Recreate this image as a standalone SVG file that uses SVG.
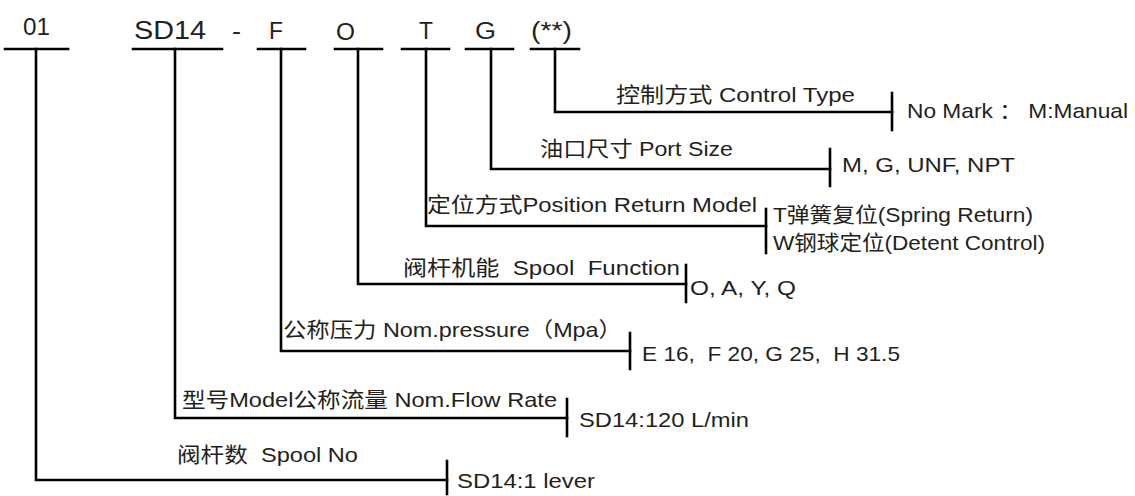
<svg xmlns="http://www.w3.org/2000/svg" width="1135" height="496" viewBox="0 0 1135 496">
<style>
  text { white-space: pre; }
  .code { font-family: "Liberation Sans", Arial, sans-serif; font-size: 23px; fill: #231f20; }
  .lbl { font-family: "Liberation Sans", "Noto Sans CJK SC", sans-serif; font-size: 21px; fill: #231f20; }
  .ln { stroke: #000; stroke-width: 2.6; fill: none; stroke-linecap: square; }
</style>
<rect width="1135" height="496" fill="#ffffff"/>

<g id="code-01"><text class="code" x="23" y="35" textLength="27" lengthAdjust="spacingAndGlyphs">01</text></g>
<g id="code-SD14"><text class="code" x="134" y="39" textLength="72" lengthAdjust="spacingAndGlyphs" style="font-size:25px">SD14</text></g>
<g id="code-dash"><text class="code" x="232" y="39" textLength="9" lengthAdjust="spacingAndGlyphs">-</text></g>
<g id="code-F"><text class="code" x="269" y="39" textLength="14" lengthAdjust="spacingAndGlyphs">F</text></g>
<g id="code-O"><text class="code" x="336" y="40" textLength="19" lengthAdjust="spacingAndGlyphs">O</text></g>
<g id="code-T"><text class="code" x="419" y="39" textLength="14" lengthAdjust="spacingAndGlyphs">T</text></g>
<g id="code-G"><text class="code" x="475" y="39" textLength="21" lengthAdjust="spacingAndGlyphs">G</text></g>
<g id="code-ctrl"><text class="code" x="531" y="39" textLength="41" lengthAdjust="spacingAndGlyphs">(**)</text></g>

<g id="connectors">
  <line class="ln" x1="5" y1="49" x2="68" y2="49"/>
  <line class="ln" x1="133" y1="49" x2="222" y2="49"/>
  <line class="ln" x1="258" y1="49" x2="305" y2="49"/>
  <line class="ln" x1="335" y1="49" x2="382" y2="49"/>
  <line class="ln" x1="402" y1="49" x2="449" y2="49"/>
  <line class="ln" x1="466" y1="49" x2="513" y2="49"/>
  <line class="ln" x1="531" y1="49" x2="579" y2="49"/>
  <polyline class="ln" points="555,49 555,112 892,112"/>
  <polyline class="ln" points="491,49 491,169 830,169"/>
  <polyline class="ln" points="426,49 426,226 766,226"/>
  <polyline class="ln" points="358,49 358,284 686,284"/>
  <polyline class="ln" points="281,49 281,351 630,351"/>
  <polyline class="ln" points="175,49 175,418 567,418"/>
  <polyline class="ln" points="36,49 36,480 447,480"/>
  <line class="ln" x1="892" y1="93" x2="892" y2="130"/>
  <line class="ln" x1="830" y1="149" x2="830" y2="186"/>
  <line class="ln" x1="766" y1="209" x2="766" y2="253"/>
  <line class="ln" x1="686" y1="265" x2="686" y2="302"/>
  <line class="ln" x1="630" y1="333" x2="630" y2="369"/>
  <line class="ln" x1="567" y1="399" x2="567" y2="436"/>
  <line class="ln" x1="447" y1="461" x2="447" y2="494"/>
</g>

<g id="node-control">
  <text class="lbl" x="616" y="102" textLength="239" lengthAdjust="spacingAndGlyphs">控制方式 Control Type</text>
  <text class="lbl" x="907" y="118" textLength="221" lengthAdjust="spacingAndGlyphs">No Mark ： M:Manual</text>
</g>
<g id="node-port">
  <text class="lbl" x="540" y="156" textLength="193" lengthAdjust="spacingAndGlyphs">油口尺寸 Port Size</text>
  <text class="lbl" x="842" y="172" textLength="173" lengthAdjust="spacingAndGlyphs">M, G, UNF, NPT</text>
</g>
<g id="node-position">
  <text class="lbl" x="427" y="212" textLength="330" lengthAdjust="spacingAndGlyphs">定位方式Position Return Model</text>
  <text class="lbl" x="773" y="222" textLength="260" lengthAdjust="spacingAndGlyphs">T弹簧复位(Spring Return)</text>
  <text class="lbl" x="773" y="250" textLength="272" lengthAdjust="spacingAndGlyphs">W钢球定位(Detent Control)</text>
</g>
<g id="node-function">
  <text class="lbl" x="403" y="275" textLength="277" lengthAdjust="spacingAndGlyphs">阀杆机能  Spool  Function</text>
  <text class="lbl" x="690" y="295" textLength="106" lengthAdjust="spacingAndGlyphs">O, A, Y, Q</text>
</g>
<g id="node-pressure">
  <text class="lbl" x="283" y="337" textLength="339" lengthAdjust="spacingAndGlyphs">公称压力 Nom.pressure（Mpa）</text>
  <text class="lbl" x="642" y="361" textLength="258" lengthAdjust="spacingAndGlyphs">E 16,  F 20, G 25,  H 31.5</text>
</g>
<g id="node-flow">
  <text class="lbl" x="182" y="407" textLength="375" lengthAdjust="spacingAndGlyphs">型号Model公称流量 Nom.Flow Rate</text>
  <text class="lbl" x="579" y="427" textLength="170" lengthAdjust="spacingAndGlyphs">SD14:120 L/min</text>
</g>
<g id="node-spoolno">
  <text class="lbl" x="177" y="462" textLength="181" lengthAdjust="spacingAndGlyphs">阀杆数  Spool No</text>
  <text class="lbl" x="457" y="488" textLength="138" lengthAdjust="spacingAndGlyphs">SD14:1 lever</text>
</g>
</svg>
